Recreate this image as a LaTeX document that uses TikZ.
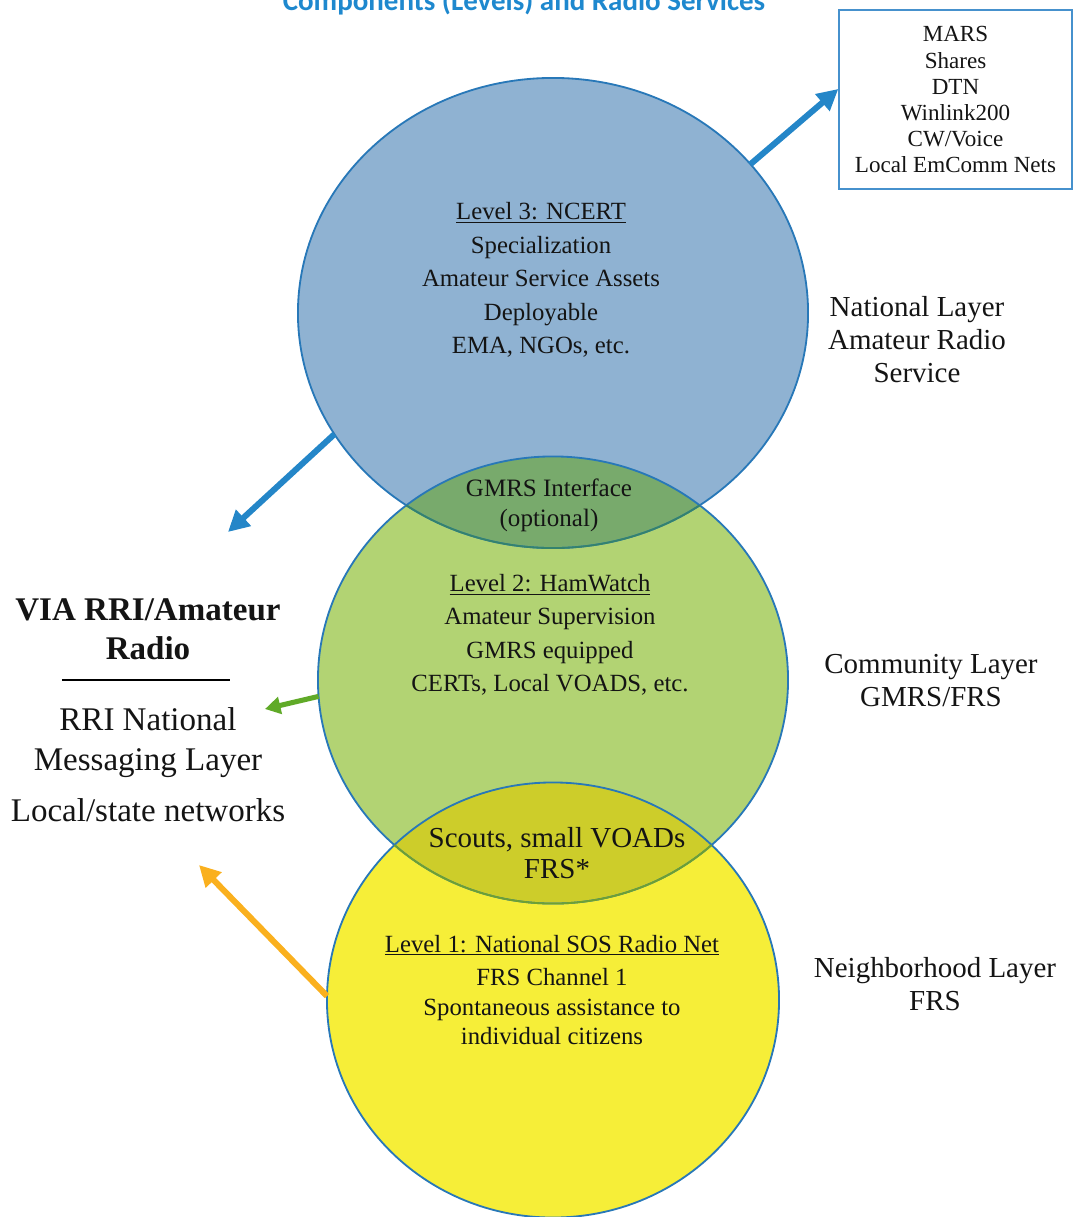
\documentclass[tikz,border=0pt]{standalone}
\usepackage{fontspec}
\setmainfont{Liberation Serif}
\newfontfamily\titlefont{Carlito}
\usepackage{tikz}
\usetikzlibrary{arrows.meta, shapes.geometric}

\definecolor{ringblue}{RGB}{40,120,184}
\definecolor{ncertfill}{RGB}{143,178,210}
\definecolor{hamfill}{RGB}{178,211,115}
\definecolor{sosfill}{RGB}{246,238,56}
\definecolor{upperlens}{RGB}{120,170,108}
\definecolor{lowerlens}{RGB}{205,205,42}
\definecolor{upperarc}{RGB}{52,130,110}
\definecolor{lowerarc}{RGB}{110,160,50}
\definecolor{arrowblue}{RGB}{36,134,200}
\definecolor{arrowgreen}{RGB}{96,170,40}
\definecolor{arroworange}{RGB}{250,176,30}
\definecolor{boxblue}{RGB}{70,145,205}
\definecolor{titleblue}{RGB}{30,136,206}
\definecolor{inktext}{RGB}{20,20,20}

\newcommand{\infofont}{\fontsize{17.6}{23.8}\selectfont}
\newcommand{\lensfont}{\fontsize{17.8}{21.3}\selectfont}
\newcommand{\scoutfont}{\fontsize{20.6}{21.6}\selectfont}
\newcommand{\layerfont}{\fontsize{20.6}{23.5}\selectfont}
\newcommand{\sidefont}{\fontsize{23.5}{28}\selectfont}
\newcommand{\boxfont}{\fontsize{16.4}{18.5}\selectfont}
\newcommand{\titlesize}{\fontsize{20.6}{24}\selectfont}

\begin{document}
\begin{tikzpicture}[x=0.025cm, y=-0.025cm,
levelring/.style={ellipse, inner sep=0pt, outer sep=0pt},
ringline/.style={draw=ringblue, line width=1.3pt},
infotext/.style={align=center, text=inktext, font=\infofont},
layertext/.style={align=center, text=inktext, font=\layerfont},
sidetext/.style={align=center, text=inktext, font=\sidefont},
servbox/.style={draw=boxblue, line width=0.9pt, align=center, text=inktext, font=\boxfont, minimum width=5.825cm, minimum height=4.475cm, inner sep=0pt},
flowarrow/.style={line width=4.3pt, -{Triangle[length=15pt, width=15pt]}},
]
\useasboundingbox (0,0) rectangle (1073,1217);

%Circles
\node[levelring, fill=ncertfill, minimum width=12.75cm, minimum height=11.75cm]  (ncert)    at (553,313)  {};
\node[levelring, fill=hamfill, minimum width=11.75cm, minimum height=11.175cm]   (hamwatch) at (553,680)  {};
\node[levelring, fill=sosfill, minimum width=11.3cm, minimum height=10.875cm]    (sos)      at (553,1000) {};

%Overlaps
\begin{scope}
\clip (ncert.center) ellipse [x radius=6.375cm, y radius=5.875cm];
\fill[upperlens] (hamwatch.center) ellipse [x radius=5.875cm, y radius=5.5875cm];
\end{scope}
\begin{scope}
\clip (hamwatch.center) ellipse [x radius=5.875cm, y radius=5.5875cm];
\fill[lowerlens] (sos.center) ellipse [x radius=5.65cm, y radius=5.4375cm];
\end{scope}

%Rings
\draw[ringline] (ncert.center) ellipse [x radius=6.375cm, y radius=5.875cm];
\draw[ringline] (hamwatch.center) ellipse [x radius=5.875cm, y radius=5.5875cm];
\draw[ringline] (sos.center) ellipse [x radius=5.65cm, y radius=5.4375cm];
\begin{scope}
\clip (hamwatch.center) ellipse [x radius=5.875cm, y radius=5.5875cm];
\draw[ringline, draw=upperarc] (ncert.center) ellipse [x radius=6.375cm, y radius=5.875cm];
\end{scope}
\begin{scope}
\clip (sos.center) ellipse [x radius=5.65cm, y radius=5.4375cm];
\draw[ringline, draw=lowerarc] (hamwatch.center) ellipse [x radius=5.875cm, y radius=5.5875cm];
\end{scope}

%Title
\node[anchor=base, text=titleblue, font=\titlesize\titlefont\bfseries] (title) at (524,10) {Components (Levels) and Radio Services};

%Texts
\node[infotext]   (ncerttext)  at (541,280) {\underline{Level 3: NCERT}\\Specialization\\Amateur Service Assets\\Deployable\\EMA, NGOs, etc.};
\node[infotext]   (hamtext)    at (550,635) {\underline{Level 2: HamWatch}\\Amateur Supervision\\GMRS equipped\\CERTs, Local VOADS, etc.};
\node[infotext, font=\fontsize{17.6}{21}\selectfont] (sostext) at (552,990) {\underline{Level 1: National SOS Radio Net}\\[2.5pt]FRS Channel 1\\Spontaneous assistance to\\individual citizens};
\node[infotext, font=\lensfont]  (gmrslens)  at (549,505) {GMRS Interface\\(optional)};
\node[infotext, font=\scoutfont] (scoutlens) at (557,853) {Scouts, small VOADs\\FRS*};

\node[layertext]  (national)   at (917,340) {National Layer\\Amateur Radio\\Service};
\node[layertext]  (community)  at (931,681) {Community Layer\\GMRS/FRS};
\node[layertext]  (neighbor)   at (935,984) {Neighborhood Layer\\FRS};

\node[sidetext, font=\sidefont\bfseries] (via) at (148,629) {VIA RRI/Amateur\\Radio};
\node[inner sep=0pt] (sidebar) at (146,680) {\rule{4.2cm}{0.8pt}};
\node[sidetext, font=\fontsize{23.5}{28.4}\selectfont] (rrimsg) at (148,743) {RRI National\\Messaging Layer};
\node[sidetext]   (localnet)   at (148,810) {Local/state networks};

\node[servbox]    (services)   at (955.5,99.5) {MARS\\Shares\\DTN\\Winlink200\\CW/Voice\\Local EmComm Nets};

%Arrows
\coordinate (swtip) at (228,532);
\coordinate (grtip) at (265,709);
\coordinate (ortip) at (199,865);
\draw[flowarrow, arrowblue] (ncert.37) -- ([yshift=7.5pt]services.west);
\draw[flowarrow, arrowblue] (ncert.209.5) -- (swtip);
\draw[flowarrow, arrowgreen, line width=3.6pt, -{Triangle[length=11pt, width=12pt]}] (hamwatch.184) -- (grtip);
\draw[flowarrow, arroworange] (sos.179) -- (ortip);
\end{tikzpicture}
\end{document}
